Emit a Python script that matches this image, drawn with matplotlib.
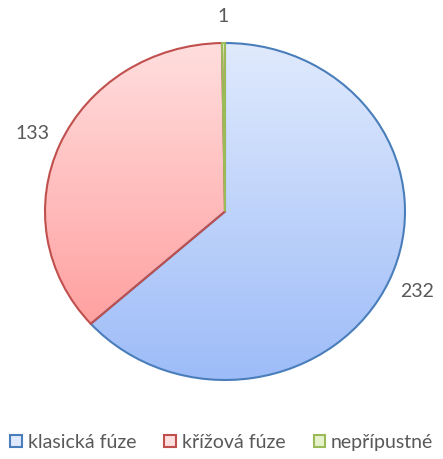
import numpy as np
import matplotlib.pyplot as plt
from matplotlib.colors import LinearSegmentedColormap
from matplotlib.patches import Patch

categories = ['klasická fúze', 'křížová fúze', 'nepřípustné']
values = [232, 133, 1]

edges = ['#4a7ebb', '#c0504d', '#9bbb59']
tops = ['#e0eafd', '#ffdede', '#e6f2cc']
bottoms = ['#9dbcf8', '#ff9494', '#b5d47a']

plt.rcParams['font.family'] = ['Lato', 'DejaVu Sans']

fig = plt.figure(figsize=(4.43, 4.59), dpi=100)
# pie drawn on a unit circle, axes box stretched a bit wider than tall
ax = fig.add_axes([45 / 443, 79 / 459, 360 / 443, 337 / 459])

wedges, _ = ax.pie(values, startangle=90, counterclock=False,
                   wedgeprops=dict(linewidth=1.5))
ax.set_aspect('auto')

for i, (w, ec, top, bot) in enumerate(zip(wedges, edges, tops, bottoms)):
    w.set_facecolor('none')
    w.set_edgecolor(ec)
    w.set_zorder(3)
    cmap = LinearSegmentedColormap.from_list('g', [bot, top])
    grad = np.linspace(0, 1, 256).reshape(-1, 1)
    im = ax.imshow(grad, cmap=cmap, extent=(-1, 1, -1, 1), origin='lower',
                   aspect='auto', zorder=2)
    im.set_clip_path(w)

    mid = np.deg2rad((w.theta1 + w.theta2) / 2)
    ax.text(1.17 * np.cos(mid), 1.16 * np.sin(mid), str(values[i]),
            ha='center', va='center', fontsize=14, color='#595959')

ax.set_xlim(-1, 1)
ax.set_ylim(-1, 1)
ax.axis('off')

handles = [Patch(facecolor=t, edgecolor=e, linewidth=1.5) for t, e in zip(tops, edges)]
fig.legend(handles, categories, loc='lower left', bbox_to_anchor=(10 / 443, 8 / 459),
           ncol=3, frameon=False, fontsize=14, labelcolor='#595959',
           handlelength=0.6, handleheight=0.6, handletextpad=0.3,
           columnspacing=1.45, borderaxespad=0.0, borderpad=0.0)

fig.savefig('out.png', dpi=100)
